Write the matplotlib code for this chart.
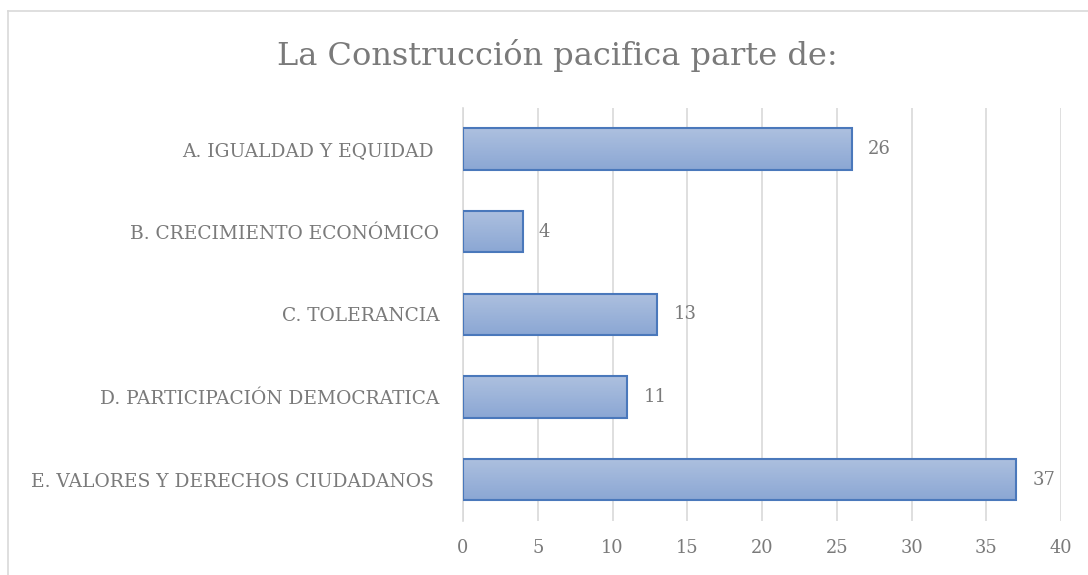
import numpy as np
import matplotlib.pyplot as plt
from matplotlib.colors import LinearSegmentedColormap
from matplotlib.lines import Line2D

categories = ['A. IGUALDAD Y EQUIDAD ', 'B. CRECIMIENTO ECONÓMICO', 'C. TOLERANCIA',
              'D. PARTICIPACIÓN DEMOCRATICA', 'E. VALORES Y DERECHOS CIUDADANOS ']
values = [26, 4, 13, 11, 37]
xticks = [0, 5, 10, 15, 20, 25, 30, 35, 40]
title = 'La Construcción pacifica parte de:'

plt.rcParams['font.family'] = ['DejaVu Serif']
txt = '#7a7a7a'

fig = plt.figure(figsize=(10.88, 5.75), dpi=100)
ax = fig.add_axes([463 / 1088, 1 - 521 / 575, 598 / 1088, 413.3 / 575])

y = np.arange(len(categories))
bars = ax.barh(y, values, height=0.5, facecolor='none', edgecolor='#4a78bb',
               linewidth=1.5, zorder=3)

# vertical gradient fill, lighter at top
grad = LinearSegmentedColormap.from_list('g', ['#adc0df', '#8ba7d4'])
gimg = np.linspace(0, 1, 100).reshape(-1, 1)
for b in bars:
    x0, y0 = b.get_x(), b.get_y()
    w, h = b.get_width(), b.get_height()
    im = ax.imshow(gimg, cmap=grad, aspect='auto', origin='upper',
                   extent=[x0, x0 + w, y0 + h, y0], zorder=2)
    im.set_clip_path(b)

for yi, v in zip(y, values):
    ax.annotate(str(v), (v, yi), xytext=(16, 0), textcoords='offset pixels',
                va='center', ha='left', fontsize=13, color=txt)

ax.set_xlim(0, 40)
ax.set_ylim(len(categories) - 0.5, -0.5)
ax.set_xticks(xticks)
ax.set_yticks(y)
ax.set_yticklabels(categories)
ax.set_xticklabels([str(t) for t in xticks])
ax.tick_params(axis='x', length=0, pad=13, labelsize=12.8, labelcolor=txt)
ax.tick_params(axis='y', length=0, pad=17, labelsize=13.4, labelcolor=txt)
ax.grid(axis='x', color='#d9d9d9', linewidth=1.2, zorder=0)
ax.set_axisbelow(True)
for s in ax.spines.values():
    s.set_visible(False)
ax.spines['left'].set_visible(True)
ax.spines['left'].set_color('#d9d9d9')
ax.spines['left'].set_linewidth(1.2)

fig.text(557 / 1088, 1 - 55 / 575, title, ha='center', va='center',
         fontsize=23, color=txt)

# chart frame
fig.add_artist(Line2D([7.5 / 1088, 7.5 / 1088], [0, 1 - 10.5 / 575],
                      transform=fig.transFigure, color='#d9d9d9', lw=1.2))
fig.add_artist(Line2D([7.5 / 1088, 1], [1 - 10.5 / 575, 1 - 10.5 / 575],
                      transform=fig.transFigure, color='#d9d9d9', lw=1.2))

fig.savefig('out.png', dpi=100)
